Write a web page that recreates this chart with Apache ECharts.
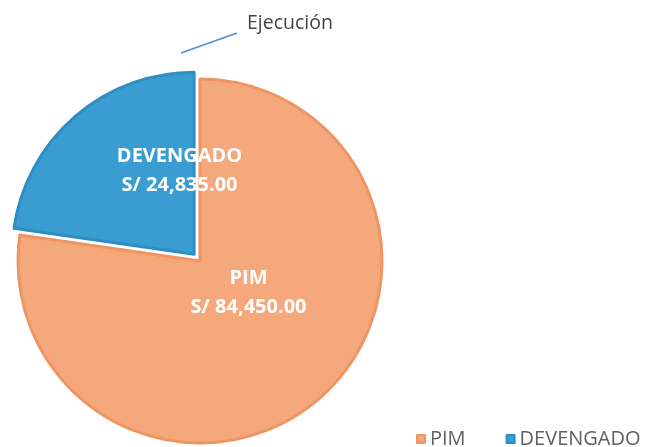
<!DOCTYPE html>
<html>
<head>
<meta charset="utf-8">
<script src="https://cdn.jsdelivr.net/npm/echarts@6/dist/echarts.min.js"></script>
<style>
  html, body { margin: 0; padding: 0; background: #fff; }
  #main { width: 650px; height: 447px; }
</style>
</head>
<body>
<div id="main"></div>
<script>
// datos del grafico
const categorias = ['PIM', 'DEVENGADO'];
const montos = [84450, 24835];
const colores = ['#F5A87B', '#3A9DD1'];
const bordes = ['#EE9563', '#2E8EC3'];

const formatoSoles = v => 'S/ ' + v.toLocaleString('en-US', { minimumFractionDigits: 2, maximumFractionDigits: 2 });

const chart = echarts.init(document.getElementById('main'));

const option = {
  animation: false,
  title: {
    text: 'Ejecución',
    left: 242,
    top: 8,
    textStyle: { color: '#444', fontSize: 19.5, fontWeight: 'normal', fontFamily: 'Open Sans' }
  },
  graphic: [
    {
      type: 'line',
      shape: { x1: 181, y1: 53, x2: 237, y2: 33 },
      style: { stroke: '#4F8FD0', lineWidth: 1.5 }
    }
  ],
  legend: {
    data: categorias,
    left: 411,
    top: 424,
    icon: 'rect',
    itemWidth: 8,
    itemHeight: 8,
    itemGap: 40,
    textStyle: { color: '#5f5f5f', fontSize: 20, fontFamily: 'Open Sans' }
  },
  series: [
    {
      type: 'pie',
      center: [200, 261],
      radius: 182,
      startAngle: 90,
      clockwise: true,
      selectedMode: 'single',
      selectedOffset: 9,
      label: {
        show: true,
        position: 'inside',
        color: '#fff',
        fontSize: 20,
        fontWeight: 'bold',
        fontFamily: 'Open Sans',
        lineHeight: 29,
        formatter: p => p.name + '\n' + formatoSoles(p.value)
      },
      labelLayout: function (p) {
        return p.dataIndex === 0 ? { dx: -13, dy: -39 } : { dx: 47, dy: -12 };
      },
      emphasis: { disabled: true },
      data: categorias.map((c, i) => ({
        name: c,
        value: montos[i],
        selected: i === 1,
        itemStyle: { color: colores[i], borderColor: bordes[i], borderWidth: 3 }
      }))
    }
  ]
};

chart.setOption(option);
</script>
</body>
</html>
